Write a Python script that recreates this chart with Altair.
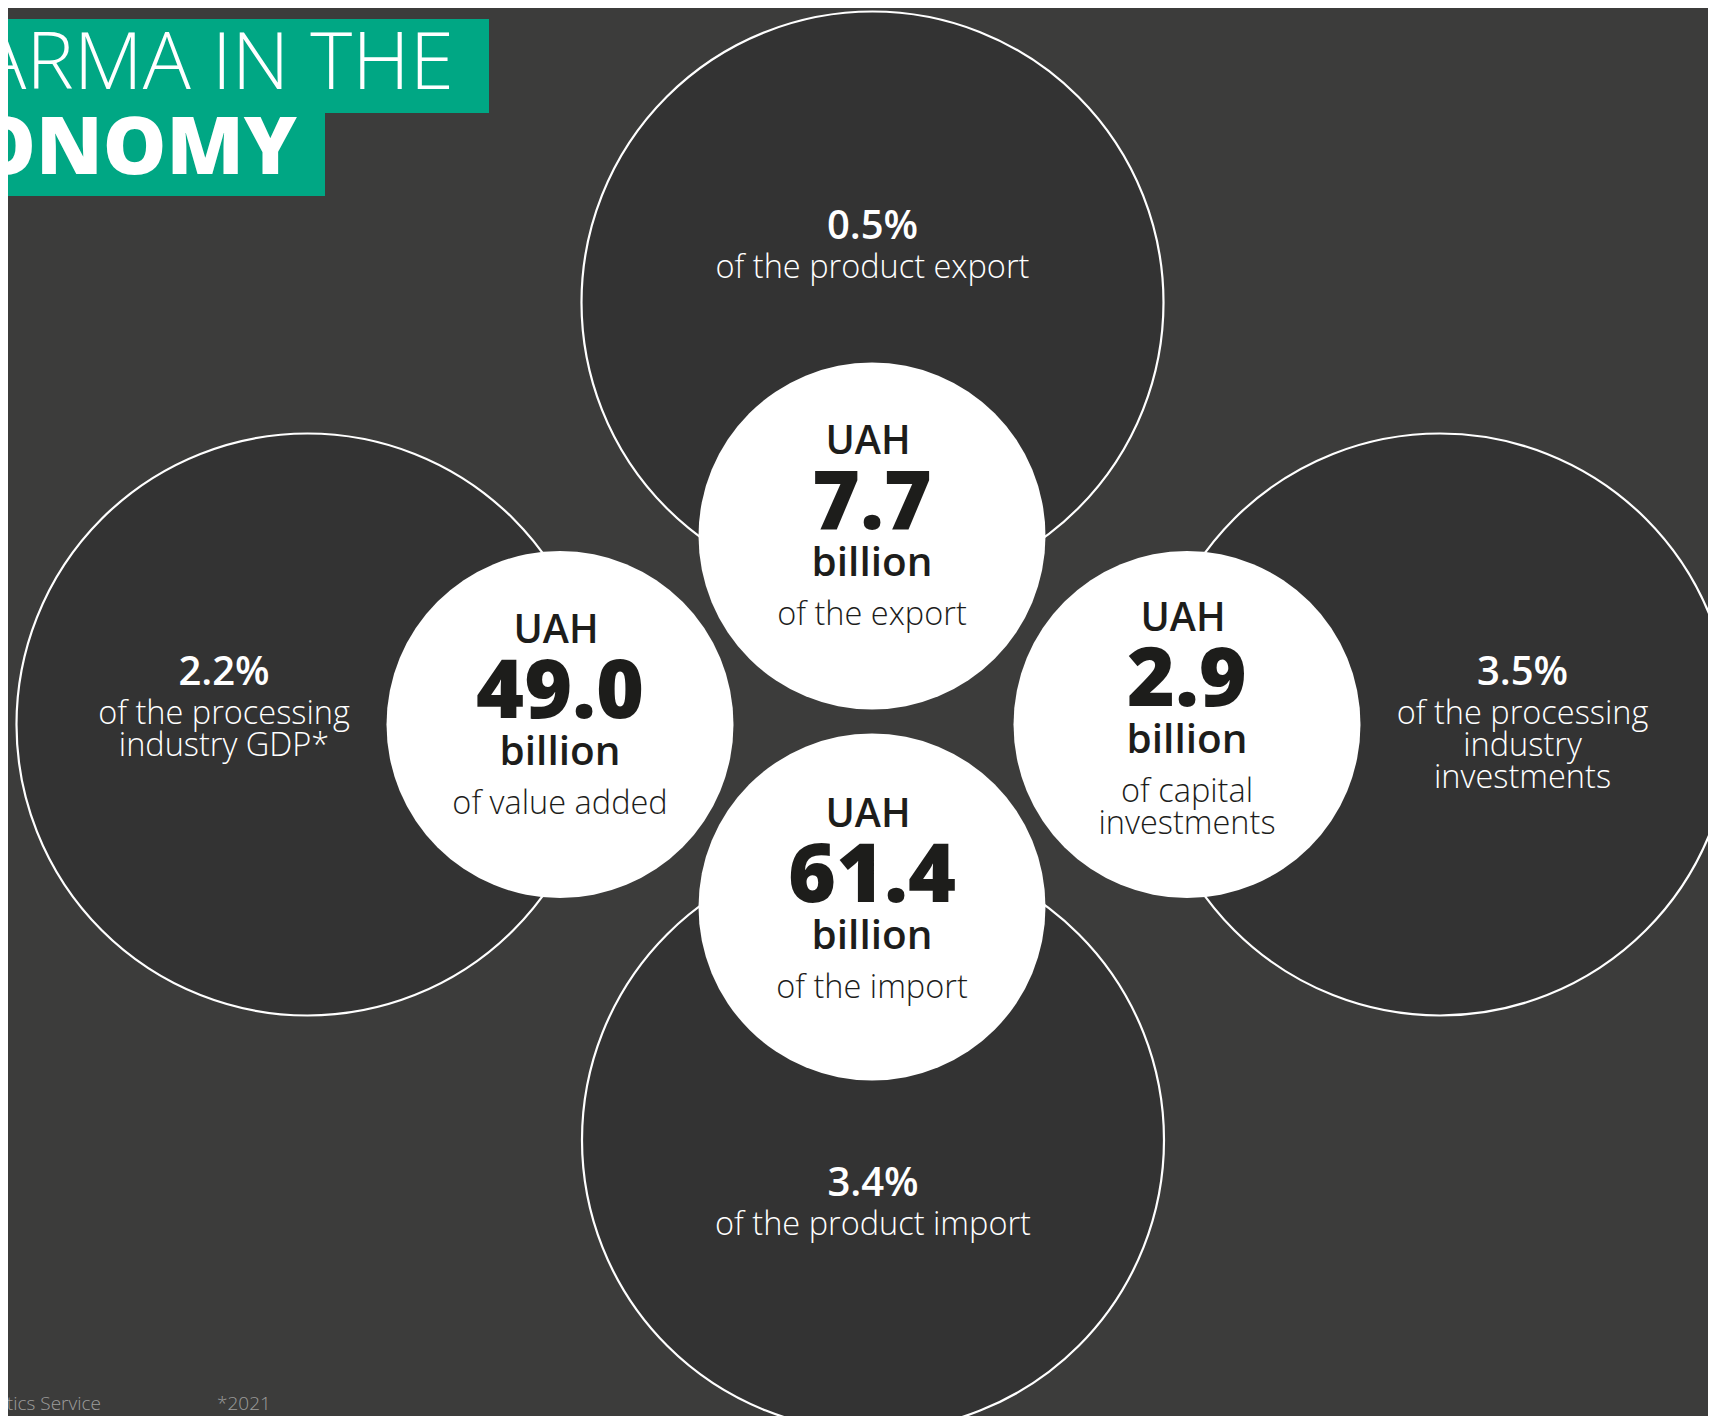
import altair as alt
import pandas as pd

# page is 1716 x 1424 with an 8px body margin -> chart area 1700 x 1408
M = 8
CW, CH = 1700, 1408

# ---- content ----
share_values = ["0.5%", "2.2%", "3.5%", "3.4%"]
share_labels = [
    ["of the product export"],
    ["of the processing", "industry GDP*"],
    ["of the processing", "industry", "investments"],
    ["of the product import"],
]
currency = "UAH"
amount_values = ["7.7", "49.0", "2.9", "61.4"]
amount_unit = "billion"
amount_labels = [
    ["of the export"],
    ["of value added"],
    ["of capital", "investments"],
    ["of the import"],
]
title_lines = ["PHARMA IN THE", "ECONOMY"]
footnotes = ["Statistics Service", "*2021"]

# ---- layout (page pixels) ----
big_cx = [872.5, 307.5, 1440, 873]
big_cy = [302.5, 724.5, 724.5, 1140]
big_r = 291
small_cx = [872, 560, 1187, 872]
small_cy = [536, 724.5, 724.5, 907]
small_r = 173.5
share_x = [872.5, 224, 1522.5, 873]
share_y = [239, 685, 685, 1196]
uah_y = [454, 643, 631, 827]

BG = "#3c3c3b"
DARK = "#333333"
INK = "#1d1d1b"
GREEN = "#00a784"
FONT = "Open Sans"

# scales map page pixels onto the chart area (shifted by the body margin)
xs = alt.Scale(domain=[M, M + CW], nice=False, zero=False)
ys = alt.Scale(domain=[M + CH, M], nice=False, zero=False)


def X(f="x"):
    return alt.X(f"{f}:Q", scale=xs, axis=None)


def Y(f="y"):
    return alt.Y(f"{f}:Q", scale=ys, axis=None)


# vega circle size = (diameter)^2
big = pd.DataFrame({"x": big_cx, "y": big_cy, "size": [(2 * big_r) ** 2] * 4})
small = pd.DataFrame({"x": small_cx, "y": small_cy, "size": [(2 * small_r) ** 2] * 4})

big_layer = alt.Chart(big).mark_circle(
    fill=DARK, stroke="white", strokeWidth=2.2, opacity=1, fillOpacity=1
).encode(x=X(), y=Y(), size=alt.Size("size:Q", scale=None))
small_layer = alt.Chart(small).mark_circle(
    fill="white", opacity=1, fillOpacity=1, strokeWidth=0
).encode(x=X(), y=Y(), size=alt.Size("size:Q", scale=None))

# share texts (dark circles)
pct_df = pd.DataFrame({"x": share_x, "y": share_y, "t": share_values})
rows = []
for i, lines in enumerate(share_labels):
    for j, line in enumerate(lines):
        rows.append({"x": share_x[i], "y": share_y[i] + 39 + 32 * j, "t": line})
pct_lbl_df = pd.DataFrame(rows)

# amount texts (white circles)
uah_df = pd.DataFrame({"x": [c - 4 for c in small_cx], "y": uah_y, "t": [currency] * 4})
amt_df = pd.DataFrame({"x": small_cx, "y": [v + 75 for v in uah_y], "t": amount_values})
bil_df = pd.DataFrame({"x": small_cx, "y": [v + 122 for v in uah_y], "t": [amount_unit] * 4})
rows = []
for i, lines in enumerate(amount_labels):
    for j, line in enumerate(lines):
        rows.append({"x": small_cx[i], "y": uah_y[i] + 171 + 32 * j, "t": line})
amt_lbl_df = pd.DataFrame(rows)


def txt(df, size, weight, color, align="center", clip=False):
    return alt.Chart(df).mark_text(
        font=FONT, fontSize=size, fontWeight=weight, color=color,
        align=align, baseline="alphabetic", clip=clip
    ).encode(x=X(), y=Y(), text="t:N")


# title
rect_df = pd.DataFrame({"x": [0, 0], "x2": [489, 325], "y": [19, 113], "y2": [113, 196]})
rect_layer = alt.Chart(rect_df).mark_rect(color=GREEN, opacity=1, clip=True).encode(
    x=X("x"), x2="x2:Q", y=Y("y"), y2="y2:Q"
)
t1 = pd.DataFrame({"x": [454], "y": [89], "t": [title_lines[0]]})
t2 = pd.DataFrame({"x": [297], "y": [174], "t": [title_lines[1]]})

f1 = pd.DataFrame({"x": [101], "y": [1410], "t": [footnotes[0]]})
f2 = pd.DataFrame({"x": [217], "y": [1410], "t": [footnotes[1]]})

chart = alt.layer(
    big_layer,
    small_layer,
    txt(pct_df, 40, 600, "white"),
    txt(pct_lbl_df, 32.5, 300, "white"),
    txt(uah_df, 39.5, 600, INK),
    txt(amt_df, 82, 800, INK),
    txt(bil_df, 40.5, 600, INK),
    txt(amt_lbl_df, 32.5, 300, INK),
    rect_layer,
    txt(t1, 80, 300, "white", align="right", clip=True),
    txt(t2, 80, 800, "white", align="right", clip=True),
    txt(f1, 19, 300, "#9d9d9c", align="right", clip=True),
    txt(f2, 19, 300, "#9d9d9c", align="left", clip=True),
).properties(
    width=CW, height=CH, padding=0,
    autosize=alt.AutoSizeParams(type="none"),
    background=BG,
).configure_view(stroke=None)

chart.save("out.html", embed_options={"renderer": "svg", "actions": False})
